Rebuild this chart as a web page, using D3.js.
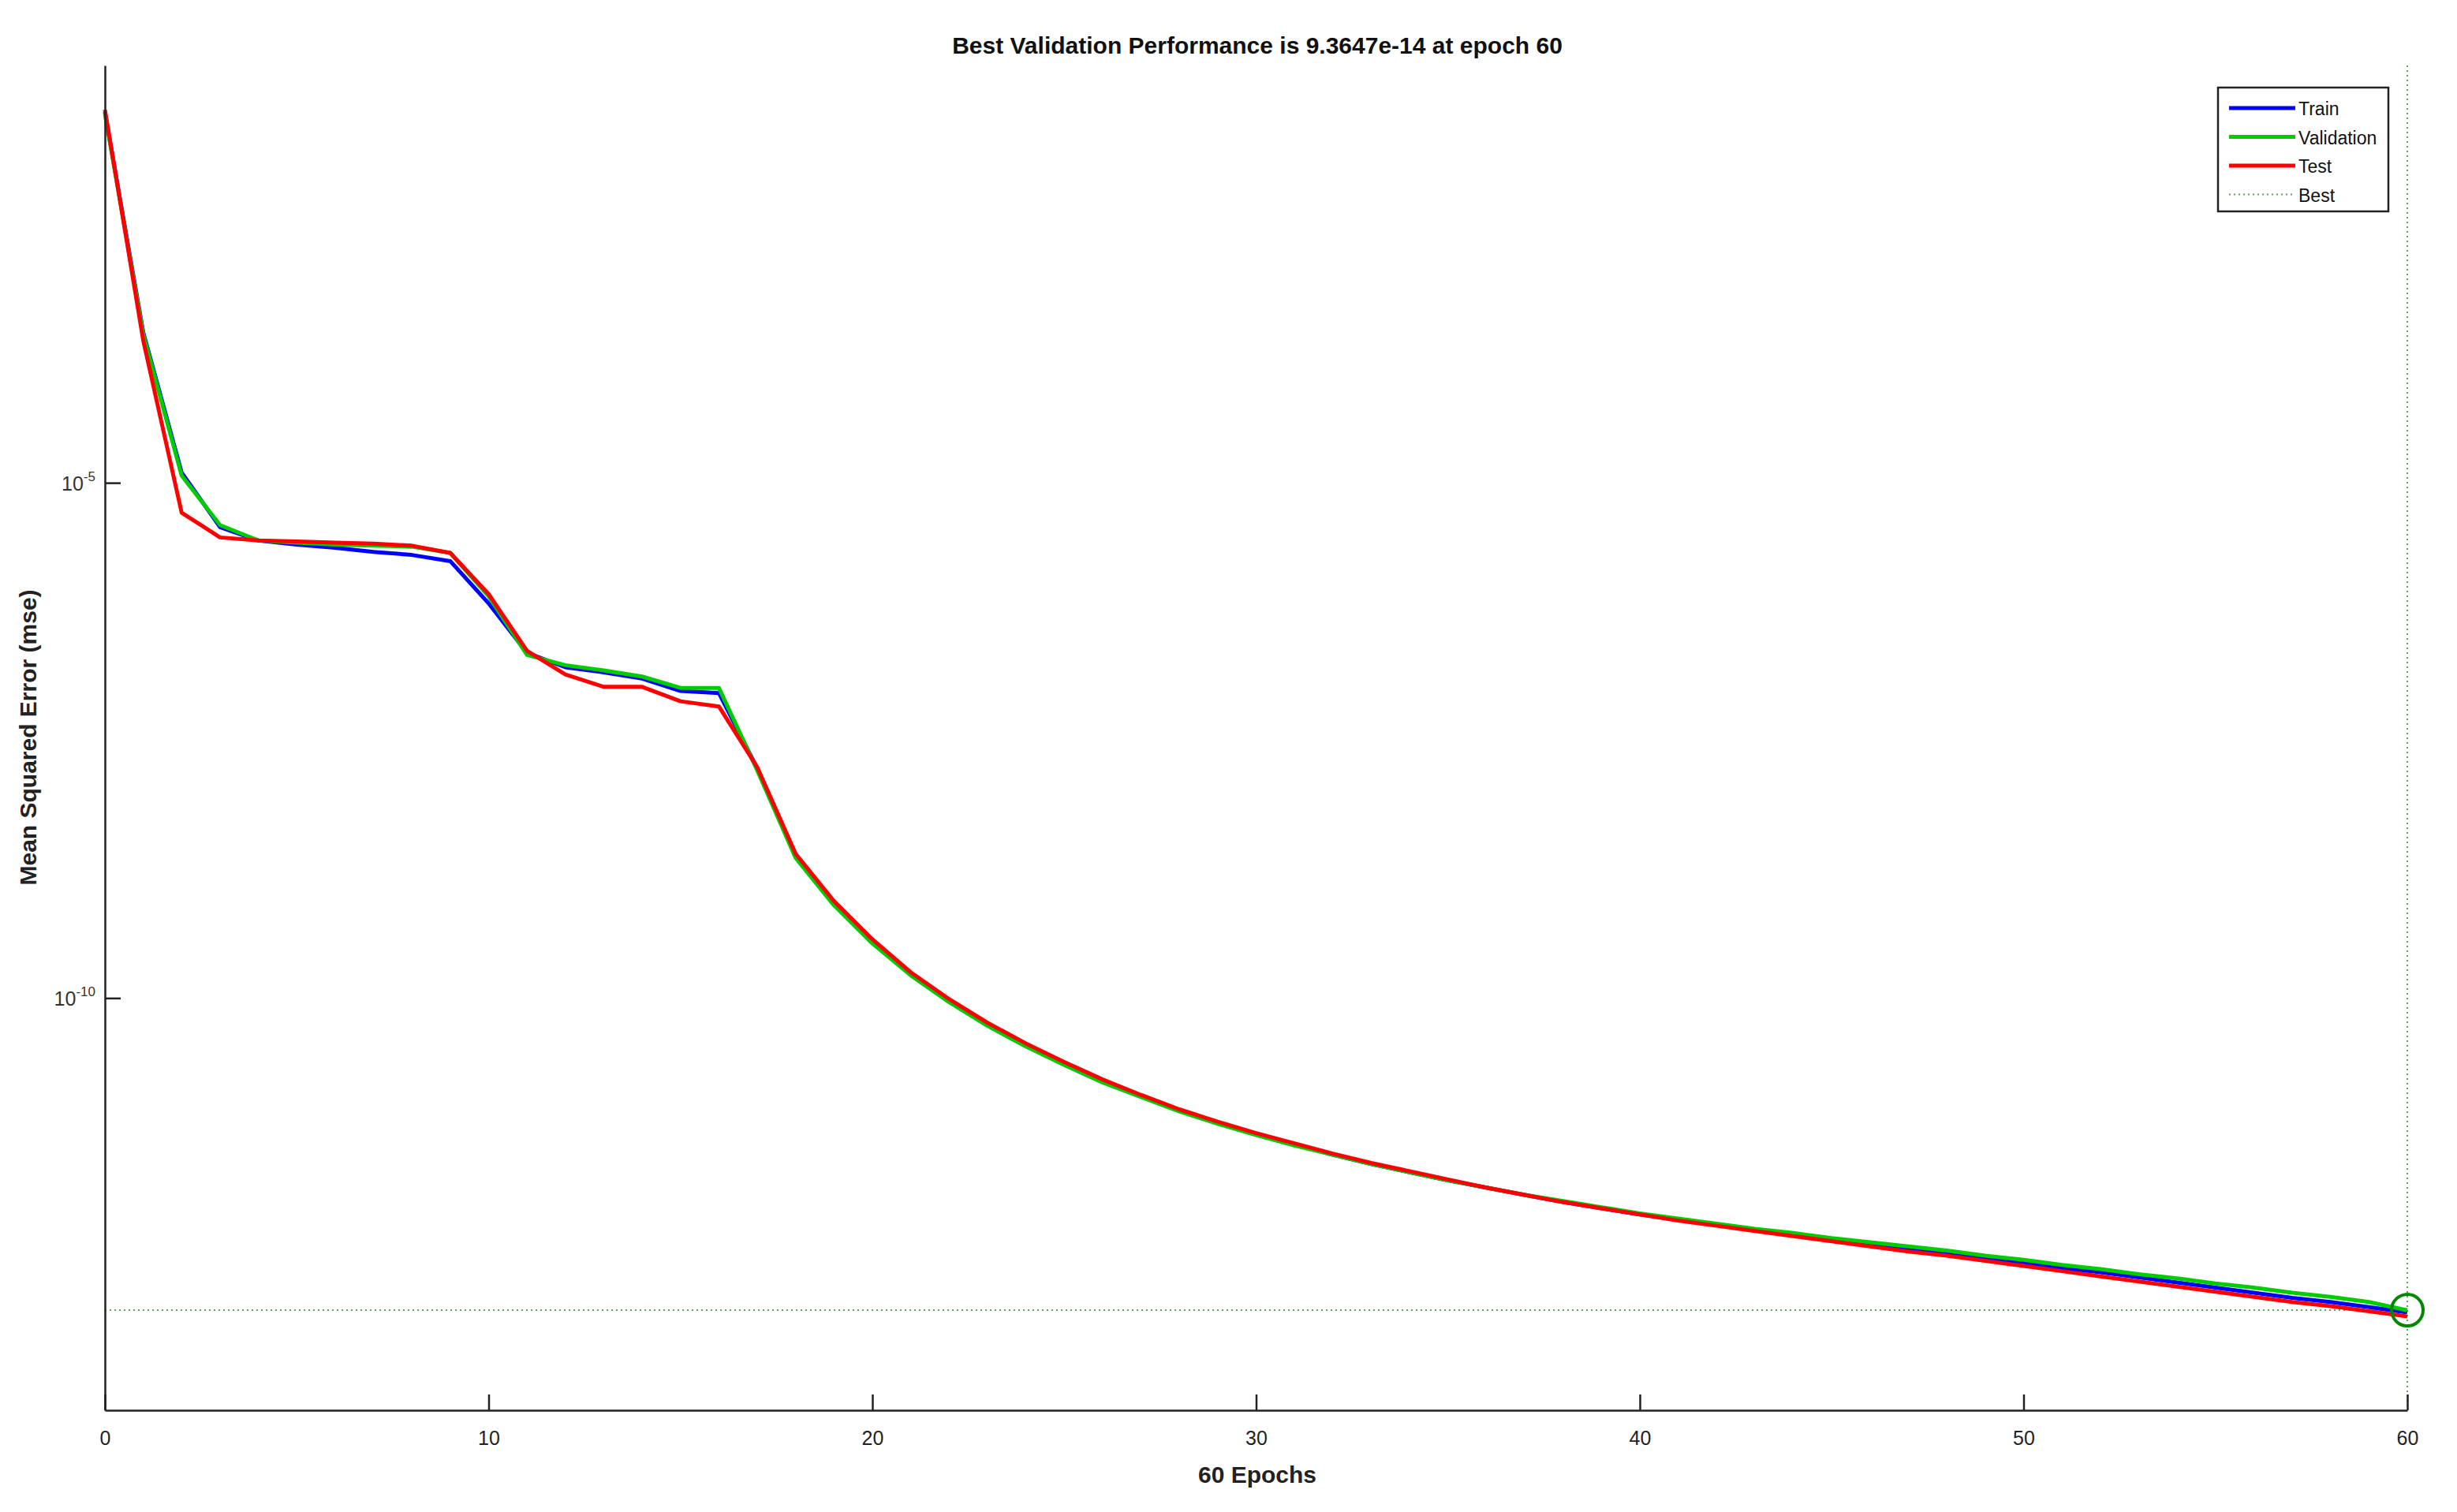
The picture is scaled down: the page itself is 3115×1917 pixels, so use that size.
<!DOCTYPE html>
<html><head><meta charset="utf-8">
<script src="https://cdn.jsdelivr.net/npm/d3@7"></script>
<style>body{margin:0;background:#fff}svg{font-family:"Liberation Sans",Arial,sans-serif}</style>
</head><body><svg id="c" width="3115" height="1917"></svg>
<script>
const epochs = d3.range(0,61);
// log10 of MSE values
const trainLog = [-1.40,-3.54,-4.90,-5.43,-5.56,-5.60,-5.63,-5.67,-5.70,-5.76,-6.17,-6.65,-6.79,-6.84,-6.90,-7.02,-7.04,-7.77,-8.61,-9.07,-9.44,-9.76,-10.02,-10.25,-10.45,-10.63,-10.80,-10.95,-11.09,-11.21,-11.32,-11.42,-11.52,-11.61,-11.69,-11.77,-11.84,-11.91,-11.98,-12.04,-12.10,-12.15,-12.20,-12.25,-12.30,-12.35,-12.39,-12.44,-12.48,-12.53,-12.57,-12.62,-12.66,-12.71,-12.76,-12.81,-12.86,-12.91,-12.95,-13.00,-13.05];
const valLog = [-1.42,-3.56,-4.93,-5.41,-5.56,-5.58,-5.60,-5.61,-5.62,-5.68,-6.10,-6.67,-6.77,-6.82,-6.88,-6.99,-6.99,-7.79,-8.64,-9.10,-9.47,-9.78,-10.04,-10.27,-10.47,-10.65,-10.82,-10.96,-11.10,-11.22,-11.33,-11.43,-11.52,-11.61,-11.69,-11.77,-11.84,-11.91,-11.97,-12.03,-12.09,-12.14,-12.19,-12.24,-12.28,-12.33,-12.37,-12.41,-12.45,-12.50,-12.54,-12.59,-12.63,-12.68,-12.72,-12.77,-12.81,-12.86,-12.90,-12.95,-13.03];
const testLog = [-1.38,-3.62,-5.29,-5.53,-5.56,-5.57,-5.58,-5.59,-5.61,-5.68,-6.08,-6.63,-6.86,-6.98,-6.98,-7.12,-7.17,-7.76,-8.60,-9.06,-9.43,-9.75,-10.01,-10.24,-10.44,-10.62,-10.79,-10.94,-11.08,-11.20,-11.31,-11.41,-11.51,-11.60,-11.68,-11.76,-11.84,-11.91,-11.98,-12.04,-12.10,-12.16,-12.21,-12.26,-12.31,-12.36,-12.41,-12.46,-12.50,-12.55,-12.60,-12.65,-12.70,-12.75,-12.80,-12.85,-12.90,-12.95,-12.99,-13.04,-13.09];
const bestEpoch = 60, bestVal = 9.3647e-14;
const xTicks = [0,10,20,30,40,50,60];
const yTicks = [1e-5,1e-10];
const series = [
  {name:"Train", vals:trainLog, color:"#0000ff"},
  {name:"Validation", vals:valLog, color:"#00cc00"},
  {name:"Test", vals:testLog, color:"#ff0000"}
];
const svg = d3.select("#c");
const L=133,R=3052,T=83,B=1788;
const x = d3.scaleLinear().domain([0,60]).range([L,R]);
const y = d3.scaleLog().domain([1e-14,10**-0.95]).range([B,T]);

svg.append("line").attr("x1",L).attr("x2",R).attr("y1",y(bestVal)).attr("y2",y(bestVal))
  .attr("stroke","#55aa55").attr("stroke-width",2).attr("stroke-dasharray","2,4");
svg.append("line").attr("x1",x(bestEpoch)).attr("x2",x(bestEpoch)).attr("y1",T).attr("y2",B)
  .attr("stroke","#55aa55").attr("stroke-width",2).attr("stroke-dasharray","2,4");

const line = d3.line().x((d,i)=>x(epochs[i])).y(d=>y(10**d));
series.forEach(s=>svg.append("path").attr("d",line(s.vals)).attr("fill","none")
  .attr("stroke",s.color).attr("stroke-width",5).attr("stroke-linejoin","round"));

svg.append("circle").attr("cx",x(bestEpoch)).attr("cy",y(bestVal)).attr("r",20)
  .attr("fill","none").attr("stroke","#008800").attr("stroke-width",4);

const xAxis = d3.axisBottom(x).tickValues(xTicks).tickSizeInner(-20).tickSizeOuter(0).tickPadding(26);
const gx = svg.append("g").attr("transform",`translate(0,${B})`).call(xAxis);
gx.selectAll("text").attr("font-size",25).attr("fill","#222");
gx.selectAll("line,path").attr("stroke","#222").attr("stroke-width",2.5);
const yAxis = d3.axisLeft(y).tickValues(yTicks).tickSizeInner(-20).tickSizeOuter(0).tickFormat("");
const gy = svg.append("g").attr("transform",`translate(${L},0)`).call(yAxis);
gy.selectAll("line,path").attr("stroke","#222").attr("stroke-width",2.5);
yTicks.forEach(t=>{
  const tx = svg.append("text").attr("x",L-12).attr("y",y(t)+10).attr("text-anchor","end")
    .attr("font-size",25).attr("fill","#333");
  tx.append("tspan").text("10");
  tx.append("tspan").attr("dy",-12).attr("font-size",17).text(String(Math.round(Math.log10(t))));
});

svg.append("text").attr("x",1594).attr("y",68).attr("text-anchor","middle").attr("font-size",30)
  .attr("font-weight","bold").attr("fill","#111").text("Best Validation Performance is 9.3647e-14 at epoch 60");
svg.append("text").attr("x",1594).attr("y",1880).attr("text-anchor","middle").attr("font-size",30)
  .attr("font-weight","bold").attr("fill","#222").text("60 Epochs");
svg.append("text").attr("transform","translate(46,935) rotate(-90)").attr("text-anchor","middle")
  .attr("font-size",30).attr("font-weight","bold").attr("fill","#222").text("Mean Squared Error  (mse)");

const lg = svg.append("g").attr("transform","translate(2812,111)");
lg.append("rect").attr("width",216).attr("height",157).attr("fill","#fff").attr("stroke","#222").attr("stroke-width",2.5);
const items = series.concat([{name:"Best", color:"#55aa55", dash:true}]);
items.forEach((s,i)=>{
  const yy = 26+i*36.5;
  lg.append("line").attr("x1",14).attr("x2",98).attr("y1",yy).attr("y2",yy)
    .attr("stroke",s.color).attr("stroke-width",s.dash?2:5).attr("stroke-dasharray",s.dash?"2,4":null);
  lg.append("text").attr("x",102).attr("y",yy+9).attr("font-size",23).attr("fill","#111").text(s.name);
});
</script></body></html>
